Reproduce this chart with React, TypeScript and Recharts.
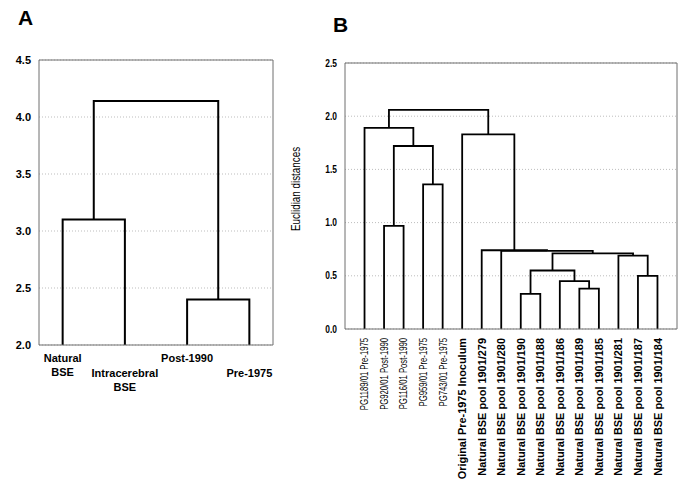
import { LineChart, Line, XAxis, YAxis, CartesianGrid } from 'recharts';

// panel A: leaf labels (one entry per line) and linkage [a, b, height]
const leavesA = [['Natural', 'BSE'], ['Intracerebral', 'BSE'], ['Post-1990'], ['Pre-1975']];
const mergesA = [
  [0, 1, 3.1],
  [2, 3, 2.4],
  [4, 5, 4.14],
];
const ticksA = [2.0, 2.5, 3.0, 3.5, 4.0, 4.5];

// panel B
const leavesB = [
  'PG1189/01 Pre-1975',
  'PG920/01 Post-1990',
  'PG116/01 Post-1990',
  'PG959/01 Pre-1975',
  'PG743/01 Pre-1975',
  'Original Pre-1975 Inoculum',
  'Natural BSE pool 1901/279',
  'Natural BSE pool 1901/280',
  'Natural BSE pool 1901/190',
  'Natural BSE pool 1901/188',
  'Natural BSE pool 1901/186',
  'Natural BSE pool 1901/189',
  'Natural BSE pool 1901/185',
  'Natural BSE pool 1901/281',
  'Natural BSE pool 1901/187',
  'Natural BSE pool 1901/184',
];
const mergesB = [
  [1, 2, 0.97],
  [3, 4, 1.36],
  [16, 17, 1.72],
  [0, 18, 1.89],
  [8, 9, 0.33],
  [11, 12, 0.38],
  [10, 21, 0.45],
  [20, 22, 0.55],
  [14, 15, 0.5],
  [13, 24, 0.69],
  [23, 25, 0.71],
  [7, 26, 0.735],
  [6, 27, 0.74],
  [5, 28, 1.83],
  [19, 29, 2.06],
];
const ticksB = [0.0, 0.5, 1.0, 1.5, 2.0, 2.5];

const SANS = '"Liberation Sans", Arial, sans-serif';
const FRAME = '#6e6e6e';

// turn a linkage list into U-shaped links (leaf i sits at x = i + 1)
function buildLinks(n: number, merges: number[][]) {
  const pos: number[] = [];
  const ht: number[] = [];
  for (let i = 0; i < n; i++) {
    pos.push(i + 1);
    ht.push(0);
  }
  const links: { x: number; y: number }[][] = [];
  merges.forEach(([a, b, h]) => {
    links.push([
      { x: pos[a], y: ht[a] },
      { x: pos[a], y: h },
      { x: pos[b], y: h },
      { x: pos[b], y: ht[b] },
    ]);
    pos.push((pos[a] + pos[b]) / 2);
    ht.push(h);
  });
  return links;
}

function minorTicks(lo: number, hi: number) {
  const out: number[] = [];
  for (let i = Math.round(lo * 10); i <= Math.round(hi * 10); i++) out.push(i / 10);
  return out;
}

function TickA(props: any) {
  const { x, y, payload } = props;
  const idx = payload.value - 1;
  const lines = leavesA[idx] || [];
  const first = idx % 2 === 0 ? 17 : 32;
  return (
    <text x={x} y={y} textAnchor="middle" fontFamily={SANS} fontSize={11} fontWeight="bold" fill="#000">
      {lines.map((l, i) => (
        <tspan key={i} x={x} y={y + first + i * 13.5}>
          {l}
        </tspan>
      ))}
    </text>
  );
}

// the B panel is horizontally squeezed in the original, so its text is narrowed
function TickB(props: any) {
  const { x, y, payload } = props;
  const name = leavesB[payload.value - 1] || '';
  const plain = name.startsWith('PG');
  return (
    <text
      transform={`translate(${x},${y + 9}) rotate(-90) scale(${plain ? 0.7 : 0.95},1)`}
      textAnchor="end"
      dy="0.35em"
      fontFamily={SANS}
      fontSize={plain ? 11 : 11.5}
      fontWeight={plain ? 'normal' : 'bold'}
      fill="#000"
    >
      {name}
    </text>
  );
}

function YTickA(props: any) {
  const { x, y, payload } = props;
  return (
    <text x={x} y={y} dy="0.35em" textAnchor="end" fontFamily={SANS} fontSize={11} fontWeight="bold" fill="#000">
      {payload.value.toFixed(1)}
    </text>
  );
}

function YTickB(props: any) {
  const { x, y, payload } = props;
  return (
    <text
      transform={`translate(${x},${y}) scale(0.8,1)`}
      dy="0.35em"
      textAnchor="end"
      fontFamily={SANS}
      fontSize={10.5}
      fontWeight="bold"
      fill="#000"
    >
      {payload.value.toFixed(1)}
    </text>
  );
}

function Dendro(props: {
  n: number;
  merges: number[][];
  ticks: number[];
  xDomain: number[];
  width: number;
  margin: any;
  yWidth: number;
  xHeight: number;
  xTick: any;
  yTick: any;
  yLabel?: string;
  strokeWidth: number;
}) {
  const { n, merges, ticks, xDomain, width, margin, yWidth, xHeight, xTick, yTick, yLabel, strokeWidth } = props;
  const links = buildLinks(n, merges);
  const leafPos = Array.from({ length: n }, (_, i) => i + 1);
  const yDomain = [ticks[0], ticks[ticks.length - 1]];
  const minor = minorTicks(yDomain[0], yDomain[1]);
  return (
    <LineChart width={width} height={490} margin={margin}>
      <CartesianGrid vertical={false} stroke="#bdbdbd" strokeDasharray="1 2" />
      <XAxis
        type="number"
        dataKey="x"
        domain={xDomain}
        ticks={leafPos}
        interval={0}
        allowDataOverflow
        height={xHeight}
        tickLine={false}
        tickSize={0}
        tickMargin={0}
        axisLine={{ stroke: FRAME }}
        tick={xTick}
      />
      <XAxis
        xAxisId="top"
        orientation="top"
        mirror
        type="number"
        domain={xDomain}
        ticks={leafPos}
        interval={0}
        allowDataOverflow
        tickSize={3}
        tick={false}
        tickLine={{ stroke: FRAME }}
        axisLine={{ stroke: FRAME }}
      />
      <YAxis
        type="number"
        domain={yDomain}
        ticks={ticks}
        interval={0}
        allowDataOverflow
        width={yWidth}
        tickLine={false}
        tickSize={0}
        tickMargin={8}
        axisLine={{ stroke: FRAME }}
        tick={yTick}
        label={
          yLabel
            ? {
                content: (p: any) => {
                  const vb = p.viewBox;
                  const cx = vb.x + 6;
                  const cy = vb.y + vb.height / 2 - 7;
                  return (
                    <text
                      transform={`translate(${cx},${cy}) rotate(-90) scale(0.82,1)`}
                      textAnchor="middle"
                      dy="0.35em"
                      fontFamily={SANS}
                      fontSize={12}
                      fill="#000"
                    >
                      {yLabel}
                    </text>
                  );
                },
              }
            : undefined
        }
      />
      <YAxis
        yAxisId="minorL"
        mirror
        type="number"
        domain={yDomain}
        ticks={minor}
        interval={0}
        allowDataOverflow
        tickSize={3}
        tick={false}
        tickLine={{ stroke: FRAME }}
        axisLine={false}
      />
      <YAxis
        yAxisId="minorR"
        orientation="right"
        mirror
        type="number"
        domain={yDomain}
        ticks={minor}
        interval={0}
        allowDataOverflow
        tickSize={3}
        tick={false}
        tickLine={{ stroke: FRAME }}
        axisLine={{ stroke: FRAME }}
      />
      {links.map((pts, i) => (
        <Line
          key={i}
          data={pts}
          dataKey="y"
          type="linear"
          stroke="#000"
          strokeWidth={strokeWidth}
          dot={false}
          activeDot={false}
          isAnimationActive={false}
        />
      ))}
    </LineChart>
  );
}

export default function App() {
  return (
    <div style={{ position: 'absolute', left: 0, top: 0, width: 685, height: 490, background: '#fff' }}>
      <div style={{ position: 'absolute', left: 18, top: 7, font: `bold 21px ${SANS}`, lineHeight: '21px' }}>A</div>
      <div style={{ position: 'absolute', left: 333, top: 14, font: `bold 21px ${SANS}`, lineHeight: '21px' }}>B</div>
      <div style={{ position: 'absolute', left: 0, top: 0 }}>
        <Dendro
          n={leavesA.length}
          merges={mergesA}
          ticks={ticksA}
          xDomain={[0.62, 4.38]}
          width={300}
          margin={{ top: 60, right: 27, bottom: 0, left: 0 }}
          yWidth={39}
          xHeight={145}
          xTick={(p: any) => <TickA {...p} />}
          yTick={(p: any) => <YTickA {...p} />}
          strokeWidth={2}
        />
      </div>
      <div style={{ position: 'absolute', left: 290, top: 0 }}>
        <Dendro
          n={leavesB.length}
          merges={mergesB}
          ticks={ticksB}
          xDomain={[0, 17]}
          width={395}
          margin={{ top: 63, right: 8, bottom: 0, left: 0 }}
          yWidth={55}
          xHeight={161}
          xTick={(p: any) => <TickB {...p} />}
          yTick={(p: any) => <YTickB {...p} />}
          yLabel="Euclidian distances"
          strokeWidth={1.8}
        />
      </div>
    </div>
  );
}
